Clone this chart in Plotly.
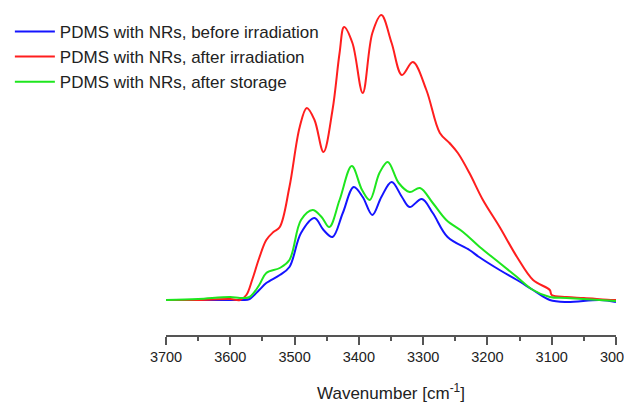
import plotly.graph_objects as go

# Data (arbitrary absorbance units)
x_before = [3700, 3650, 3600, 3580, 3570, 3555, 3544, 3523, 3508, 3490, 3469, 3455, 3441, 3425, 3408,
            3394, 3379, 3365, 3349, 3333, 3321, 3302, 3285, 3262, 3228, 3213, 3181, 3154, 3129, 3103,
            3077, 3025, 3000]
y_before = [0, 0, 0, 0, 1, 10, 17, 25, 33, 67, 82, 70, 63, 87, 113,
            103, 85, 103, 118, 103, 93, 101, 87, 63, 50, 43, 30, 20, 10, 0,
            -2, 0, -2]

x_after = [3700, 3650, 3600, 3585, 3575, 3566, 3555, 3544, 3533, 3523, 3508, 3492, 3481, 3469, 3455,
           3441, 3430, 3423, 3410, 3394, 3379, 3365, 3349, 3333, 3316, 3295, 3274, 3259, 3246, 3228,
           3207, 3181, 3154, 3129, 3103, 3100, 3077, 3050, 3005, 3000]
y_after = [0, 0, 1, 0, 5, 20, 42, 60, 68, 73, 113, 173, 192, 180, 148,
           190, 247, 273, 257, 207, 267, 285, 257, 225, 238, 210, 167, 157, 147, 127,
           100, 73, 43, 20, 10, 5, 3, 2, 0, 0]

x_storage = [3700, 3650, 3600, 3585, 3570, 3555, 3544, 3523, 3508, 3490, 3472, 3458, 3446, 3430, 3411,
             3395, 3383, 3368, 3355, 3338, 3321, 3305, 3285, 3264, 3238, 3212, 3181, 3154, 3129, 3103,
             3077, 3000]
y_storage = [0, 1, 3, 2, 3, 15, 27, 32, 40, 80, 90, 83, 73, 100, 134,
             110, 100, 127, 138, 117, 108, 112, 97, 80, 68, 53, 37, 23, 10, 3,
             2, -1]

names = ["PDMS with NRs, before irradiation",
         "PDMS with NRs, after irradiation",
         "PDMS with NRs, after storage"]
colors = ["#1414ff", "#ff1e1e", "#1ee61e"]
tick_vals = [3700, 3600, 3500, 3400, 3300, 3200, 3100, 3000]

fig = go.Figure()
for xs, ys, n, c in [(x_before, y_before, names[0], colors[0]),
                     (x_after, y_after, names[1], colors[1]),
                     (x_storage, y_storage, names[2], colors[2])]:
    fig.add_trace(go.Scatter(x=xs, y=ys, mode="lines", name=n,
                             line=dict(color=c, width=2, shape="spline", smoothing=1.0)))

# The page body adds an 8 px offset, so the figure is 8 px smaller in each direction
fig.update_layout(
    width=624, height=397,
    margin=dict(l=158, r=16, t=2, b=70, autoexpand=False),
    paper_bgcolor="white", plot_bgcolor="white",
    font=dict(family="Liberation Sans, Arial, sans-serif", color="#222"),
    showlegend=True,
    legend=dict(x=0.003, y=0.985, xref="container", yref="container",
                xanchor="left", yanchor="top",
                font=dict(size=17, color="#222"),
                bgcolor="rgba(0,0,0,0)", tracegroupgap=0,
                itemwidth=40),
    xaxis=dict(range=[3700, 3000], tickmode="array",
               tickvals=tick_vals, ticklabeloverflow="allow",
               ticks="outside", ticklen=8, tickwidth=1.5, tickcolor="#555",
               showline=True, linecolor="#555", linewidth=1.5,
               showgrid=False, zeroline=False,
               minor=dict(dtick=50, ticks="outside", ticklen=4, tickcolor="#555", tickwidth=1.5),
               tickfont=dict(size=14.5, color="#222"),
               title=dict(text="Wavenumber [cm<sup>-1</sup>]", font=dict(size=17, color="#222"),
                          standoff=23)),
    yaxis=dict(range=[-35, 290], visible=False, showgrid=False, zeroline=False),
)

fig.write_html("out.html")
